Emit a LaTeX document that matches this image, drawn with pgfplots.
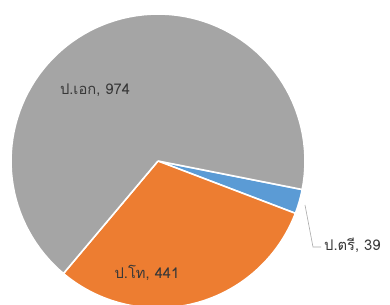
\documentclass[border=0pt]{standalone}
\usepackage{fontspec}
\newfontfamily\thaifont[Script=Thai]{Loma}
\usepackage{pgfplots}
\pgfplotsset{compat=1.18}
\definecolor{cgray}{HTML}{A5A5A5}
\definecolor{corange}{HTML}{ED7D31}
\definecolor{cblue}{HTML}{5B9BD5}
\definecolor{clabel}{HTML}{383838}
\definecolor{cleader}{HTML}{A6A6A6}
\def\cx{158}
\def\cy{144}
\def\rr{147}
% data
\def\vT{39}   % ป.ตรี
\def\vM{441}  % ป.โท
\def\vD{974}  % ป.เอก
\newcommand{\slice}[3]{%
\addplot[fill=#3, draw=white, line width=1.6bp, line join=round,
  variable=\t, samples at={-1,0,1,...,90,91}]
  ({(\t<0 || \t>90) ? \cx : \cx + \rr*cos(#1+(#2-#1)*\t/90)},
   {(\t<0 || \t>90) ? \cy : \cy + \rr*sin(#1+(#2-#1)*\t/90)});
}
\begin{document}
\begin{tikzpicture}
\pgfmathsetmacro{\tot}{\vT+\vM+\vD}
\pgfmathsetmacro{\aA}{-11.2}
\pgfmathsetmacro{\aB}{\aA-360*(\vT/\tot)}
\pgfmathsetmacro{\aC}{\aB-360*(\vM/\tot)}
\pgfmathsetmacro{\aD}{\aC-360*(\vD/\tot)}
\begin{axis}[width=390bp,height=305bp,scale only axis,
  xmin=0,xmax=390,ymin=0,ymax=305,hide axis,clip=true]
\slice{\aA}{\aB}{cblue}
\slice{\aB}{\aC}{corange}
\slice{\aC}{\aD}{cgray}
\addplot[cleader, line width=0.6bp, mark=none] coordinates {(305,100) (313,58) (321,58)};
\node[font=\thaifont\fontsize{14.8}{16}\selectfont, text=clabel] at (axis cs:95,215) {ป.เอก, 974};
\node[font=\thaifont\fontsize{14.8}{16}\selectfont, text=clabel] at (axis cs:147,32) {ป.โท, 441};
\node[font=\thaifont\fontsize{14.8}{16}\selectfont, text=clabel, anchor=west, inner sep=1bp] at (axis cs:323,60) {ป.ตรี, 39};
\end{axis}
\pgfresetboundingbox
\path (current axis.south west) rectangle (current axis.north east);
\end{tikzpicture}
\end{document}
